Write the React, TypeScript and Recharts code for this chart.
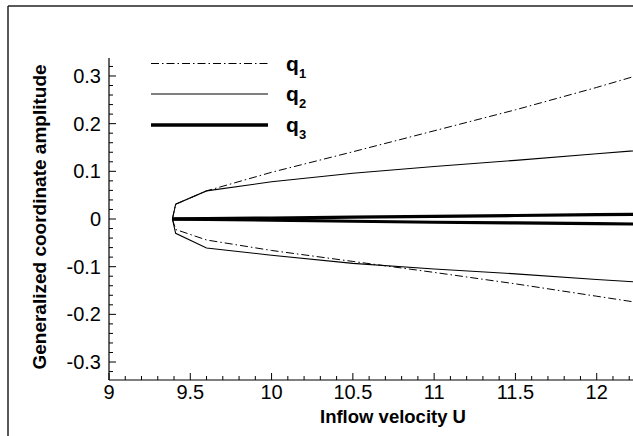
import React from 'react';
import { LineChart, Line, XAxis, YAxis } from 'recharts';

// Inflow velocity grid and generalized coordinate amplitudes (upper / lower branches)
const U = [9.39, 9.41, 9.6, 10.0, 10.5, 11.0, 11.5, 12.0, 12.5];
const q1Upper = [0, 0.031, 0.059, 0.098, 0.141, 0.185, 0.229, 0.276, 0.326];
const q1Lower = [0, -0.022, -0.044, -0.066, -0.089, -0.112, -0.136, -0.162, -0.188];
const q2Upper = [0, 0.031, 0.059, 0.078, 0.096, 0.11, 0.123, 0.137, 0.15];
const q2Lower = [0, -0.03, -0.061, -0.076, -0.093, -0.105, -0.115, -0.127, -0.137];
const q3Upper = [0, 0.0001, 0.0008, 0.002, 0.0038, 0.0056, 0.0073, 0.009, 0.011];
const q3Lower = [0, -0.0001, -0.0008, -0.0025, -0.0047, -0.0068, -0.0083, -0.0098, -0.0113];

const xMajorTicks = [9, 9.5, 10, 10.5, 11, 11.5, 12];
const yMajorTicks = [-0.3, -0.2, -0.1, 0, 0.1, 0.2, 0.3];
const xMinorStep = 0.1;
const yMinorStep = 0.02;

const legendNames = ['q', 'q', 'q'];
const legendSubs = ['1', '2', '3'];

const data = U.map((u, i) => ({
  u,
  q1u: q1Upper[i],
  q1l: q1Lower[i],
  q2u: q2Upper[i],
  q2l: q2Lower[i],
  q3u: q3Upper[i],
  q3l: q3Lower[i],
}));

const X_DOMAIN: [number, number] = [9, 12.5];
const Y_DOMAIN: [number, number] = [-0.3377, 0.3377];

const xTicks: number[] = [];
for (let i = 0; i <= 32; i++) {
  xTicks.push(Math.round((X_DOMAIN[0] + i * xMinorStep) * 100) / 100);
}
const yTicks: number[] = [];
for (let i = -16; i <= 16; i++) {
  yTicks.push(Math.round(i * yMinorStep * 1000) / 1000);
}

const FONT = '"Liberation Sans", Arial, Helvetica, sans-serif';

const isMajor = (v: number, list: number[]) => list.some((m) => Math.abs(m - v) < 1e-6);

const XTick = (props: any) => {
  const { x, y, payload } = props;
  const v = payload.value;
  const major = isMajor(v, xMajorTicks);
  return (
    <g>
      <line x1={x} x2={x} y1={y} y2={y - (major ? 7 : 4)} stroke="#000" strokeWidth={1} />
      {major && (
        <text x={x} y={y + 19} textAnchor="middle" fontSize={20} fontFamily={FONT} fill="#000">
          {String(v)}
        </text>
      )}
    </g>
  );
};

const YTick = (props: any) => {
  const { x, y, payload } = props;
  const v = payload.value;
  const major = isMajor(v, yMajorTicks);
  return (
    <g>
      <line x1={x} x2={x + (major ? 7 : 4)} y1={y} y2={y} stroke="#000" strokeWidth={1} />
      {major && (
        <text x={x - 8} y={y + 7} textAnchor="end" fontSize={20} fontFamily={FONT} fill="#000">
          {String(v)}
        </text>
      )}
    </g>
  );
};

const legendRows = [
  { y: 63.5, dash: '8 3 1.5 3', w: 1 },
  { y: 94, dash: undefined, w: 1 },
  { y: 125, dash: undefined, w: 3.5 },
];

export default function App() {
  return (
    <div style={{ position: 'relative', width: 633, height: 436, overflow: 'hidden', background: '#fff' }}>
      <style>{'html,body{margin:0;padding:0;overflow:hidden;background:#fff}'}</style>
      <LineChart
        width={700}
        height={436}
        data={data}
        margin={{ top: 58, right: 22, bottom: 55, left: 108 }}
      >
        <XAxis
          type="number"
          dataKey="u"
          domain={X_DOMAIN}
          ticks={xTicks}
          interval={0}
          allowDataOverflow
          height={1}
          tickSize={0}
          tickMargin={0}
          tickLine={false}
          axisLine={{ stroke: '#000', strokeWidth: 1.2 }}
          tick={<XTick />}
        />
        <YAxis
          type="number"
          domain={Y_DOMAIN}
          ticks={yTicks}
          interval={0}
          allowDataOverflow
          width={1}
          tickSize={0}
          tickMargin={0}
          tickLine={false}
          axisLine={{ stroke: '#000', strokeWidth: 1.2 }}
          tick={<YTick />}
        />
        <Line type="linear" dataKey="q1u" stroke="#000" strokeWidth={1} strokeDasharray="8 3 1.5 3" dot={false} isAnimationActive={false} />
        <Line type="linear" dataKey="q1l" stroke="#000" strokeWidth={1} strokeDasharray="8 3 1.5 3" dot={false} isAnimationActive={false} />
        <Line type="linear" dataKey="q2u" stroke="#000" strokeWidth={1.1} dot={false} isAnimationActive={false} />
        <Line type="linear" dataKey="q2l" stroke="#000" strokeWidth={1.1} dot={false} isAnimationActive={false} />
        <Line type="linear" dataKey="q3u" stroke="#000" strokeWidth={3.2} dot={false} isAnimationActive={false} />
        <Line type="linear" dataKey="q3l" stroke="#000" strokeWidth={3.2} dot={false} isAnimationActive={false} />
      </LineChart>
      <svg
        width={633}
        height={436}
        style={{ position: 'absolute', left: 0, top: 0, pointerEvents: 'none' }}
      >
        <line x1={8} x2={8} y1={6} y2={436} stroke="#222" strokeWidth={1.5} />
        <line x1={8} x2={633} y1={6} y2={6} stroke="#222" strokeWidth={1.5} />
        {legendRows.map((r, i) => (
          <g key={i}>
            <line x1={151} x2={268} y1={r.y} y2={r.y} stroke="#000" strokeWidth={r.w} strokeDasharray={r.dash} />
            <text x={286} y={r.y + 7} fontSize={21} fontWeight="bold" fontFamily={FONT} fill="#000">
              {legendNames[i]}
            </text>
            <text x={299} y={r.y + 14} fontSize={13} fontWeight="bold" fontFamily={FONT} fill="#000">
              {legendSubs[i]}
            </text>
          </g>
        ))}
        <text x={393} y={423} textAnchor="middle" fontSize={18.5} fontWeight="bold" fontFamily={FONT} fill="#000">
          Inflow velocity U
        </text>
        <text
          x={0}
          y={0}
          transform="translate(46,217) rotate(-90)"
          textAnchor="middle"
          fontSize={19}
          fontWeight="bold"
          fontFamily={FONT}
          fill="#000"
        >
          Generalized coordinate amplitude
        </text>
      </svg>
    </div>
  );
}
